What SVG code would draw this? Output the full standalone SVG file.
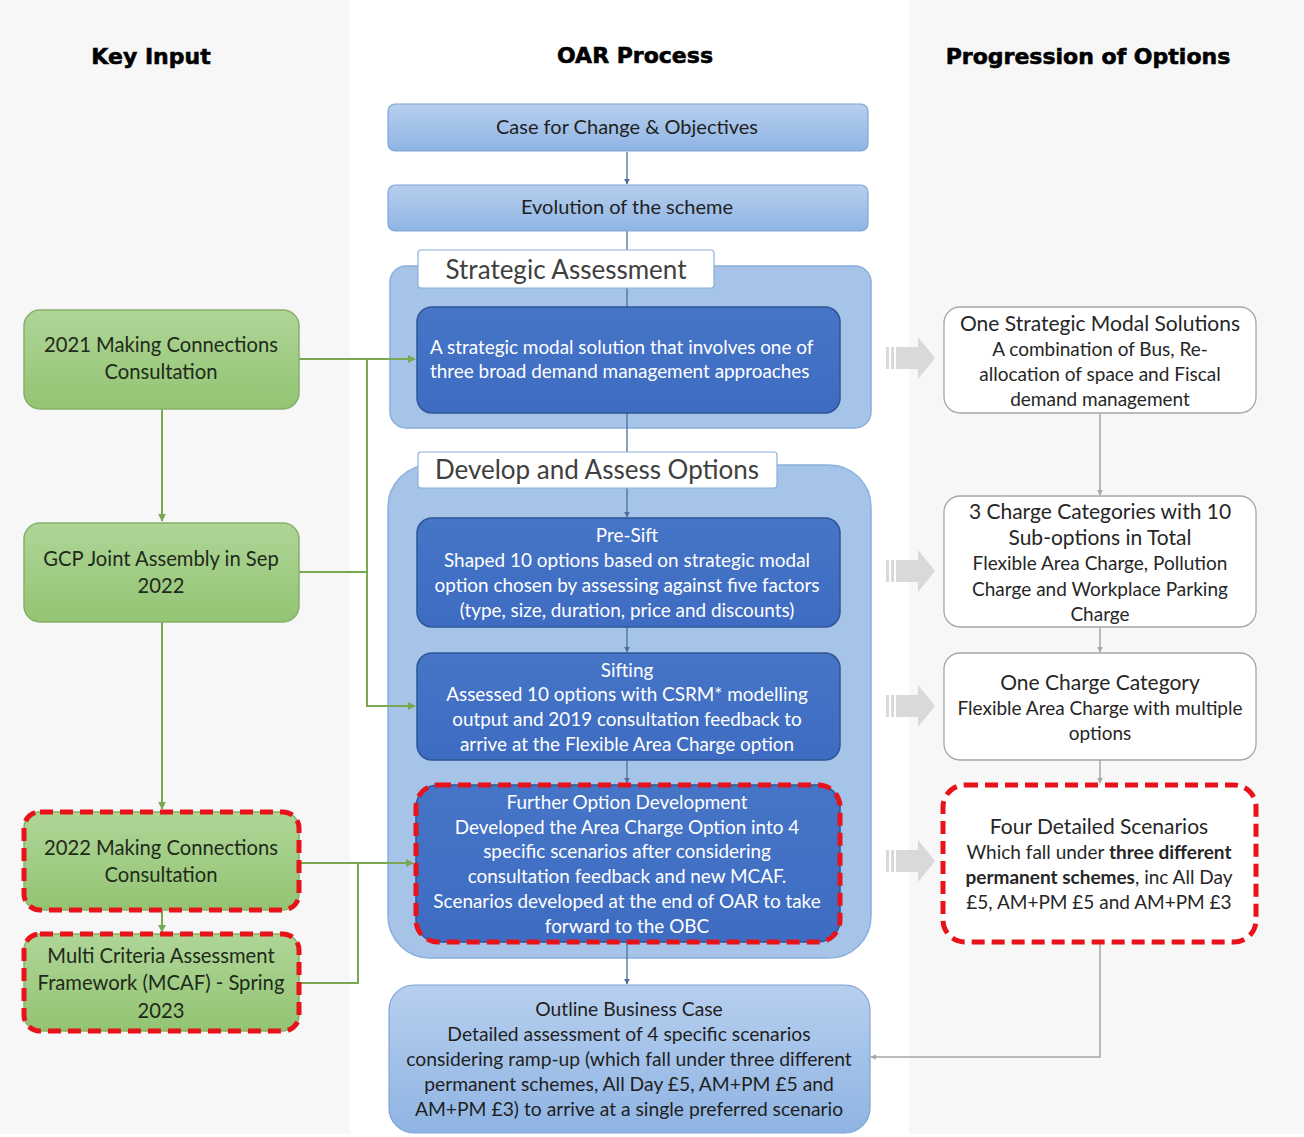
<svg xmlns="http://www.w3.org/2000/svg" width="1304" height="1137" viewBox="0 0 1304 1137">
<defs>
<style>
.hdr{font-family:"DejaVu Sans","Liberation Sans",sans-serif;font-weight:bold;font-size:22px;fill:#000;stroke:#000;stroke-width:0.6;text-anchor:middle}
.t{font-family:Lato,"Noto Sans",sans-serif;text-anchor:middle}
.dk{fill:#1f1f1f;font-size:19.3px}
.dk2{fill:#1f1f1f;font-size:20px}
.wt{fill:#ffffff;font-size:18.9px}
.gt{fill:#1f2a1a;font-size:20.2px}
.rt{fill:#262626;font-size:19px}
.rtt{fill:#262626;font-size:21px}
.lbl{fill:#404040;font-size:26px}
.lb{fill:url(#gLB);stroke:#7fa4d6;stroke-width:1.2}
.cont{fill:#a6c3e8;stroke:#8bafdc;stroke-width:1.5}
.db{fill:url(#gDB);stroke:#2f5597;stroke-width:1.5}
.gr{fill:url(#gGR);stroke:#86b06a;stroke-width:1.5}
.wb{fill:#ffffff;stroke:#a6a6a6;stroke-width:1.3}
.red{fill:none;stroke:#e8121a;stroke-width:5;stroke-dasharray:13 7}
.lblbox{fill:#ffffff;stroke:#8bafdc;stroke-width:1.2}
.cb{fill:none;stroke:#4e6d9c;stroke-width:1.3}
.cg{fill:none;stroke:#78a852;stroke-width:2}
.cgy{fill:none;stroke:#a6a6a6;stroke-width:1.5}
.ba{fill:#d9d9d9}
</style>
<linearGradient id="gLB" x1="0" y1="0" x2="0" y2="1">
<stop offset="0" stop-color="#b7cfee"/><stop offset="1" stop-color="#8fb4e3"/>
</linearGradient>
<linearGradient id="gDB" x1="0" y1="0" x2="0" y2="1">
<stop offset="0" stop-color="#4674c6"/><stop offset="1" stop-color="#3e6cc2"/>
</linearGradient>
<linearGradient id="gGR" x1="0" y1="0" x2="0" y2="1">
<stop offset="0" stop-color="#afd597"/><stop offset="1" stop-color="#93c473"/>
</linearGradient>
<marker id="aB" viewBox="0 0 10 10" refX="9" refY="5" markerWidth="6" markerHeight="6" orient="auto" markerUnits="userSpaceOnUse"><path d="M0,0 L10,5 L0,10 z" fill="#4e6d9c"/></marker>
<marker id="aG" viewBox="0 0 10 10" refX="9" refY="5" markerWidth="8" markerHeight="8" orient="auto" markerUnits="userSpaceOnUse"><path d="M0,0 L10,5 L0,10 z" fill="#78a852"/></marker>
<marker id="aY" viewBox="0 0 10 10" refX="9" refY="5" markerWidth="6" markerHeight="6" orient="auto" markerUnits="userSpaceOnUse"><path d="M0,0 L10,5 L0,10 z" fill="#a6a6a6"/></marker>
<g id="blockArrow">
<rect x="0" y="-11" width="3" height="22" class="ba"/>
<rect x="5" y="-11" width="3" height="22" class="ba"/>
<path d="M10,-11 L32,-11 L32,-21 L49,0 L32,21 L32,11 L10,11 z" class="ba"/>
</g>
</defs>

<!-- backgrounds -->
<rect x="0" y="0" width="1304" height="1137" fill="#ffffff"/>
<rect x="0" y="0" width="350" height="1134" fill="#f7f7f7"/>
<rect x="909" y="0" width="395" height="1134" fill="#f7f7f7"/>

<!-- headers -->
<text class="hdr" x="151" y="64">Key Input</text>
<text class="hdr" x="635" y="63">OAR Process</text>
<text class="hdr" x="1088" y="64">Progression of Options</text>

<!-- containers -->
<g id="strategic-assessment">
<rect class="cont" x="390" y="266" width="481" height="162" rx="16"/>
</g>
<g id="develop-assess">
<rect class="cont" x="388" y="465" width="483" height="493" rx="42"/>
</g>

<!-- connectors -->
<g id="connectors">
<line class="cb" x1="627" y1="152" x2="627" y2="184" marker-end="url(#aB)"/>
<line class="cb" x1="627" y1="231" x2="627" y2="307"/>
<line class="cb" x1="627" y1="413" x2="627" y2="452"/>
<line class="cb" x1="627" y1="488" x2="627" y2="517" marker-end="url(#aB)"/>
<line class="cb" x1="627" y1="627" x2="627" y2="652" marker-end="url(#aB)"/>
<line class="cb" x1="627" y1="760" x2="627" y2="783" marker-end="url(#aB)"/>
<line class="cb" x1="627" y1="943" x2="627" y2="984" marker-end="url(#aB)"/>

<polyline class="cg" points="299,359 415,359" marker-end="url(#aG)"/>
<polyline class="cg" points="367,359 367,706 415,706" marker-end="url(#aG)"/>
<polyline class="cg" points="299,572 367,572"/>
<line class="cg" x1="162" y1="409" x2="162" y2="521" marker-end="url(#aG)"/>
<line class="cg" x1="162" y1="622" x2="162" y2="809" marker-end="url(#aG)"/>
<line class="cg" x1="162" y1="911" x2="162" y2="932" marker-end="url(#aG)"/>
<polyline class="cg" points="299,863 413,863" marker-end="url(#aG)"/>
<polyline class="cg" points="299,983 358,983 358,863"/>

<line class="cgy" x1="1100" y1="413" x2="1100" y2="495" marker-end="url(#aY)"/>
<line class="cgy" x1="1100" y1="627" x2="1100" y2="652" marker-end="url(#aY)"/>
<line class="cgy" x1="1100" y1="760" x2="1100" y2="783" marker-end="url(#aY)"/>
<polyline class="cgy" points="1100,943 1100,1057 871,1057" marker-end="url(#aY)"/>

<use href="#blockArrow" x="886" y="358"/>
<use href="#blockArrow" x="886" y="571"/>
<use href="#blockArrow" x="886" y="706"/>
<use href="#blockArrow" x="886" y="861"/>
</g>

<!-- center nodes -->
<g id="case-for-change">
<rect class="lb" x="388" y="104" width="480" height="47" rx="7"/>
<text class="t dk2" x="627" y="134">Case for Change &amp; Objectives</text>
</g>
<g id="evolution">
<rect class="lb" x="388" y="185" width="480" height="46" rx="7"/>
<text class="t dk2" x="627" y="214">Evolution of the scheme</text>
</g>
<g id="strategic-label">
<rect class="lblbox" x="418" y="250" width="296" height="38" rx="3"/>
<text class="t lbl" x="566" y="279">Strategic Assessment</text>
</g>
<g id="strategic-modal">
<rect class="db" x="417" y="307" width="423" height="106" rx="15"/>
<text class="t wt" x="430" y="354" style="text-anchor:start">A strategic modal solution that involves one of</text>
<text class="t wt" x="430" y="378" style="text-anchor:start">three broad demand management approaches</text>
</g>
<g id="develop-label">
<rect class="lblbox" x="418" y="452" width="359" height="36" rx="3"/>
<text class="t lbl" x="597" y="479">Develop and Assess Options</text>
</g>
<g id="pre-sift">
<rect class="db" x="417" y="518" width="423" height="109" rx="15"/>
<text class="t wt" x="627" y="542">Pre-Sift</text>
<text class="t wt" x="627" y="567">Shaped 10 options based on strategic modal</text>
<text class="t wt" x="627" y="592">option chosen by assessing against five factors</text>
<text class="t wt" x="627" y="617">(type, size, duration, price and discounts)</text>
</g>
<g id="sifting">
<rect class="db" x="417" y="653" width="423" height="107" rx="15"/>
<text class="t wt" x="627" y="677">Sifting</text>
<text class="t wt" x="627" y="701">Assessed 10 options with CSRM* modelling</text>
<text class="t wt" x="627" y="726">output and 2019 consultation feedback to</text>
<text class="t wt" x="627" y="751">arrive at the Flexible Area Charge option</text>
</g>
<g id="further-option">
<rect class="db" x="416" y="785" width="424" height="157" rx="22"/>
<rect class="red" x="416" y="785" width="424" height="157" rx="22"/>
<text class="t wt" x="627" y="809">Further Option Development</text>
<text class="t wt" x="627" y="834">Developed the Area Charge Option into 4</text>
<text class="t wt" x="627" y="858">specific scenarios after considering</text>
<text class="t wt" x="627" y="883">consultation feedback and new MCAF.</text>
<text class="t wt" x="627" y="908">Scenarios developed at the end of OAR to take</text>
<text class="t wt" x="627" y="933">forward to the OBC</text>
</g>
<g id="obc">
<rect class="lb" x="389" y="985" width="481" height="148" rx="25"/>
<text class="t dk" x="629" y="1016">Outline Business Case</text>
<text class="t dk" x="629" y="1041">Detailed assessment of 4 specific scenarios</text>
<text class="t dk" x="629" y="1066">considering ramp-up (which fall under three different</text>
<text class="t dk" x="629" y="1091">permanent schemes, All Day £5, AM+PM £5 and</text>
<text class="t dk" x="629" y="1116">AM+PM £3) to arrive at a single preferred scenario</text>
</g>

<!-- left nodes -->
<g id="mc2021">
<rect class="gr" x="24" y="310" width="275" height="99" rx="16"/>
<text class="t gt" x="161" y="352">2021 Making Connections</text>
<text class="t gt" x="161" y="379">Consultation</text>
</g>
<g id="gcp">
<rect class="gr" x="24" y="523" width="275" height="99" rx="16"/>
<text class="t gt" x="161" y="566">GCP Joint Assembly in Sep</text>
<text class="t gt" x="161" y="593">2022</text>
</g>
<g id="mc2022">
<rect class="gr" x="24" y="812" width="275" height="98" rx="16"/>
<rect class="red" x="24" y="812" width="275" height="98" rx="16"/>
<text class="t gt" x="161" y="855">2022 Making Connections</text>
<text class="t gt" x="161" y="882">Consultation</text>
</g>
<g id="mcaf">
<rect class="gr" x="24" y="934" width="275" height="97" rx="16"/>
<rect class="red" x="24" y="934" width="275" height="97" rx="16"/>
<text class="t gt" x="161" y="963">Multi Criteria Assessment</text>
<text class="t gt" x="161" y="990">Framework (MCAF) - Spring</text>
<text class="t gt" x="161" y="1018">2023</text>
</g>

<!-- right nodes -->
<g id="one-strategic">
<rect class="wb" x="944" y="307" width="312" height="106" rx="16"/>
<text class="t rtt" x="1100" y="331">One Strategic Modal Solutions</text>
<text class="t rt" x="1100" y="356">A combination of Bus, Re-</text>
<text class="t rt" x="1100" y="381">allocation of space and Fiscal</text>
<text class="t rt" x="1100" y="406">demand management</text>
</g>
<g id="three-charge">
<rect class="wb" x="944" y="496" width="312" height="131" rx="16"/>
<text class="t rtt" x="1100" y="519">3 Charge Categories with 10</text>
<text class="t rtt" x="1100" y="545">Sub-options in Total</text>
<text class="t rt" x="1100" y="570">Flexible Area Charge, Pollution</text>
<text class="t rt" x="1100" y="596">Charge and Workplace Parking</text>
<text class="t rt" x="1100" y="621">Charge</text>
</g>
<g id="one-charge">
<rect class="wb" x="944" y="653" width="312" height="107" rx="16"/>
<text class="t rtt" x="1100" y="690">One Charge Category</text>
<text class="t rt" x="1100" y="715">Flexible Area Charge with multiple</text>
<text class="t rt" x="1100" y="740">options</text>
</g>
<g id="four-scenarios">
<rect x="943" y="785" width="313" height="157" rx="22" fill="#ffffff"/>
<rect class="red" x="943" y="785" width="313" height="157" rx="22"/>
<text class="t rtt" x="1099" y="834">Four Detailed Scenarios</text>
<text class="t rt" x="1099" y="859">Which fall under <tspan font-weight="bold">three different</tspan></text>
<text class="t rt" x="1099" y="884"><tspan font-weight="bold">permanent schemes</tspan>, inc All Day</text>
<text class="t rt" x="1099" y="909">£5, AM+PM £5 and AM+PM £3</text>
</g>
</svg>
